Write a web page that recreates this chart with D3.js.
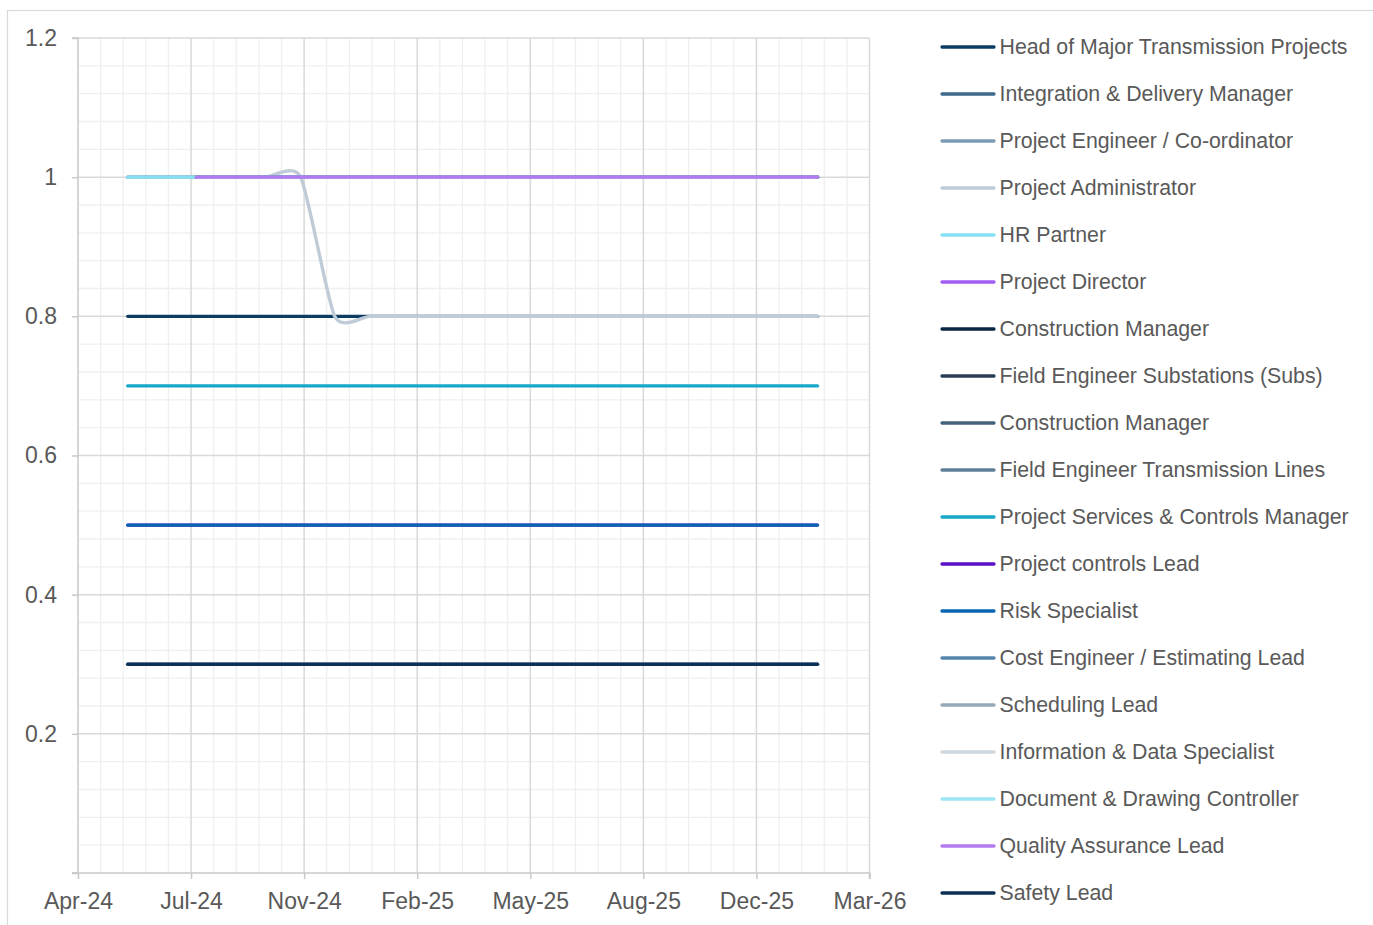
<!DOCTYPE html>
<html>
<head>
<meta charset="utf-8">
<script src="https://cdn.jsdelivr.net/npm/d3@7"></script>
<style>
  body { margin: 0; background: #ffffff; }
  text { font-family: "Liberation Sans", Arial, sans-serif; }
</style>
</head>
<body>
<svg id="chart" width="1373" height="925"></svg>
<script>
// Monthly resourcing (FTE) per role, Jun-24 to Feb-26
const months = [
  "2024-06-01","2024-07-01","2024-08-01","2024-09-01","2024-10-01","2024-11-01","2024-12-01",
  "2025-01-01","2025-02-01","2025-03-01","2025-04-01","2025-05-01","2025-06-01","2025-07-01",
  "2025-08-01","2025-09-01","2025-10-01","2025-11-01","2025-12-01","2026-01-01","2026-02-01"
];

const headOfMajorTransmission = [0.8,0.8,0.8,0.8,0.8,0.8,0.8,0.8,0.8,0.8,0.8,0.8,0.8,0.8,0.8,0.8,0.8,0.8,0.8,0.8,0.8];
const integrationDelivery     = [1,1,1,1,1,1,1,1,1,1,1,1,1,1,1,1,1,1,1,1,1];
const projectEngineer         = [1,1,1,1,1,1,1,1,1,1,1,1,1,1,1,1,1,1,1,1,1];
const projectAdministrator    = [1,1,1,1,1,1,0.8,0.8,0.8,0.8,0.8,0.8,0.8,0.8,0.8,0.8,0.8,0.8,0.8,0.8,0.8];
const hrPartner               = [1,1,1,1,1,1,1,1,1,1,1,1,1,1,1,1,1,1,1,1,1];
const projectDirector         = [null,null,1,1,1,1,1,1,1,1,1,1,1,1,1,1,1,1,1,1,1];
const constructionManagerA    = [null,null,1,1,1,1,1,1,1,1,1,1,1,1,1,1,1,1,1,1,1];
const fieldEngineerSubs       = [null,null,1,1,1,1,1,1,1,1,1,1,1,1,1,1,1,1,1,1,1];
const constructionManagerB    = [null,null,1,1,1,1,1,1,1,1,1,1,1,1,1,1,1,1,1,1,1];
const fieldEngineerLines      = [null,null,1,1,1,1,1,1,1,1,1,1,1,1,1,1,1,1,1,1,1];
const servicesControlsManager = [0.7,0.7,0.7,0.7,0.7,0.7,0.7,0.7,0.7,0.7,0.7,0.7,0.7,0.7,0.7,0.7,0.7,0.7,0.7,0.7,0.7];
const projectControlsLead     = [0.5,0.5,0.5,0.5,0.5,0.5,0.5,0.5,0.5,0.5,0.5,0.5,0.5,0.5,0.5,0.5,0.5,0.5,0.5,0.5,0.5];
const riskSpecialist          = [0.5,0.5,0.5,0.5,0.5,0.5,0.5,0.5,0.5,0.5,0.5,0.5,0.5,0.5,0.5,0.5,0.5,0.5,0.5,0.5,0.5];
const costEngineer            = [0.3,0.3,0.3,0.3,0.3,0.3,0.3,0.3,0.3,0.3,0.3,0.3,0.3,0.3,0.3,0.3,0.3,0.3,0.3,0.3,0.3];
const schedulingLead          = [0.3,0.3,0.3,0.3,0.3,0.3,0.3,0.3,0.3,0.3,0.3,0.3,0.3,0.3,0.3,0.3,0.3,0.3,0.3,0.3,0.3];
const informationData         = [0.3,0.3,0.3,0.3,0.3,0.3,0.3,0.3,0.3,0.3,0.3,0.3,0.3,0.3,0.3,0.3,0.3,0.3,0.3,0.3,0.3];
const documentDrawing         = [null,null,1,1,1,1,1,1,1,1,1,1,1,1,1,1,1,1,1,1,1];
const qualityAssurance        = [null,null,1,1,1,1,1,1,1,1,1,1,1,1,1,1,1,1,1,1,1];
const safetyLead              = [0.3,0.3,0.3,0.3,0.3,0.3,0.3,0.3,0.3,0.3,0.3,0.3,0.3,0.3,0.3,0.3,0.3,0.3,0.3,0.3,0.3];

const seriesNames = [
  "Head of Major Transmission Projects","Integration & Delivery Manager","Project Engineer / Co-ordinator",
  "Project Administrator","HR Partner","Project Director","Construction Manager",
  "Field Engineer Substations (Subs)","Construction Manager","Field Engineer Transmission Lines",
  "Project Services & Controls Manager","Project controls Lead","Risk Specialist",
  "Cost Engineer / Estimating Lead","Scheduling Lead","Information & Data Specialist",
  "Document & Drawing Controller","Quality Assurance Lead","Safety Lead"
];
const seriesValues = [
  headOfMajorTransmission, integrationDelivery, projectEngineer, projectAdministrator, hrPartner,
  projectDirector, constructionManagerA, fieldEngineerSubs, constructionManagerB, fieldEngineerLines,
  servicesControlsManager, projectControlsLead, riskSpecialist, costEngineer, schedulingLead,
  informationData, documentDrawing, qualityAssurance, safetyLead
];
const seriesColors = [
  "#0c3b63","#3f6a8c","#7b9cb6","#bfccd7","#86dff2","#a35cf2","#0b2545",
  "#283f55","#46617a","#5f7f99","#17a8c9","#5b0fc7","#0a64b4",
  "#5585ad","#93a9bc","#cfd8df","#9de6f3","#b57af2","#0b2f55"
];

// Axis ticks (x every 100 days, y every 0.2)
const xTickDates  = ["2024-04-18","2024-07-27","2024-11-04","2025-02-12","2025-05-23","2025-08-31","2025-12-09","2026-03-19"];
const xTickLabels = ["Apr-24","Jul-24","Nov-24","Feb-25","May-25","Aug-25","Dec-25","Mar-26"];
const yTickValues = [0, 0.2, 0.4, 0.6, 0.8, 1, 1.2];
const yTickLabels = ["", "0.2", "0.4", "0.6", "0.8", "1", "1.2"];

const parse = d3.utcParse("%Y-%m-%d");
const xTicks = xTickDates.map(parse);
const monthDates = months.map(parse);

const svg = d3.select("#chart");
const plot = { left: 78, right: 869.5, top: 38, bottom: 873 };

const x = d3.scaleUtc().domain([xTicks[0], xTicks[xTicks.length - 1]]).range([plot.left, plot.right]);
const y = d3.scaleLinear().domain([0, 1.2]).range([plot.bottom, plot.top]);

// Outer chart frame
svg.append("rect").attr("x", 7.5).attr("y", 10.5).attr("width", 1380).attr("height", 930)
  .attr("fill", "none").attr("stroke", "#d9d9d9").attr("stroke-width", 1.2);

// Minor gridlines: 5 subdivisions per major interval
const minorX = [];
for (let i = 0; i < xTicks.length - 1; i++) {
  const a = xTicks[i].getTime(), b = xTicks[i + 1].getTime();
  for (let k = 1; k < 5; k++) minorX.push(new Date(a + (b - a) * k / 5));
}
const minorY = [];
for (let i = 0; i < yTickValues.length - 1; i++) {
  for (let k = 1; k < 5; k++) minorY.push(yTickValues[i] + (yTickValues[i + 1] - yTickValues[i]) * k / 5);
}
const grid = svg.append("g");
grid.selectAll(".mx").data(minorX).join("line")
  .attr("x1", d => x(d)).attr("x2", d => x(d)).attr("y1", plot.top).attr("y2", plot.bottom)
  .attr("stroke", "#efefef").attr("stroke-width", 1.3);
grid.selectAll(".my").data(minorY).join("line")
  .attr("x1", plot.left).attr("x2", plot.right).attr("y1", d => y(d)).attr("y2", d => y(d))
  .attr("stroke", "#efefef").attr("stroke-width", 1.3);
grid.selectAll(".Mx").data(xTicks.slice(1)).join("line")
  .attr("x1", d => x(d)).attr("x2", d => x(d)).attr("y1", plot.top).attr("y2", plot.bottom)
  .attr("stroke", "#d9d9d9").attr("stroke-width", 1.5);
grid.selectAll(".My").data(yTickValues.slice(1)).join("line")
  .attr("x1", plot.left).attr("x2", plot.right).attr("y1", d => y(d)).attr("y2", d => y(d))
  .attr("stroke", "#d9d9d9").attr("stroke-width", 1.5);

// Axes
const yAxis = d3.axisLeft(y).tickValues(yTickValues)
  .tickFormat((d, i) => yTickLabels[i]).tickSize(6).tickPadding(15);
const gy = svg.append("g").attr("transform", `translate(${plot.left},0)`).call(yAxis);

const xAxis = d3.axisBottom(x).tickValues(xTicks)
  .tickFormat((d, i) => xTickLabels[i]).tickSize(6).tickPadding(14);
const gx = svg.append("g").attr("transform", `translate(0,${plot.bottom})`).call(xAxis);

[gx, gy].forEach(g => {
  g.select(".domain").attr("stroke", "#c9c9c9").attr("stroke-width", 1.5);
  g.selectAll(".tick line").attr("stroke", "#c9c9c9").attr("stroke-width", 1.5);
  g.selectAll(".tick text").attr("fill", "#595959").style("font-size", "23px")
    .style("font-family", "'Liberation Sans', Arial, sans-serif");
});
gy.select(".domain").attr("d", `M-6,${plot.bottom}H0V${plot.top}H-6`);
gx.select(".domain").attr("d", `M${plot.left - 6},0H${plot.right}V6`);

// Series lines (smoothed)
const line = d3.line()
  .defined(d => d.v != null)
  .x(d => x(d.date))
  .y(d => y(d.v))
  .curve(d3.curveCardinal.tension(0.37));

const series = seriesNames.map((name, i) => ({
  name, color: seriesColors[i],
  points: seriesValues[i].map((v, j) => ({ date: monthDates[j], v }))
}));

svg.append("g").selectAll("path").data(series).join("path")
  .attr("d", d => line(d.points))
  .attr("fill", "none")
  .attr("stroke", d => d.color)
  .attr("stroke-width", 3.4)
  .attr("stroke-linecap", "round")
  .attr("stroke-linejoin", "round");

// Legend
const legend = svg.append("g");
const items = legend.selectAll("g").data(series).join("g")
  .attr("transform", (d, i) => `translate(0,${47 + i * 47})`);
items.append("line").attr("x1", 942).attr("x2", 994).attr("y1", 0).attr("y2", 0)
  .attr("stroke", d => d.color).attr("stroke-width", 3.3).attr("stroke-linecap", "round");
items.append("text").attr("x", 999.5).attr("y", 6.8)
  .attr("fill", "#595959").style("font-size", "21.3px")
  .text(d => d.name);
</script>
</body>
</html>
